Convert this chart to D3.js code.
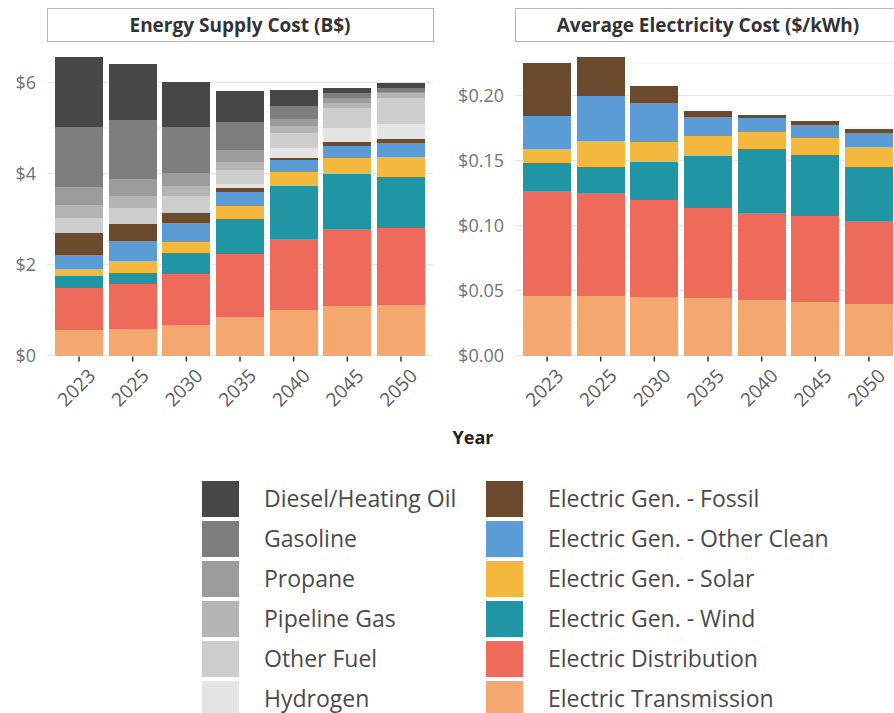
<!DOCTYPE html>
<html>
<head>
<title>Energy Supply Cost</title>
<script src="https://d3js.org/d3.v7.min.js"></script>
<style>
  body { margin: 0; background: #fff; }
  text { font-family: "Open Sans", sans-serif; }
</style>
</head>
<body>
<script>
var years = ["2023", "2025", "2030", "2035", "2040", "2045", "2050"];

// stacking order, bottom to top
var seriesNames = ["Electric Transmission", "Electric Distribution", "Electric Gen. - Wind",
  "Electric Gen. - Solar", "Electric Gen. - Other Clean", "Electric Gen. - Fossil",
  "Hydrogen", "Other Fuel", "Pipeline Gas", "Propane", "Gasoline", "Diesel/Heating Oil"];
var seriesColors = ["#f5a770", "#ee6a5b", "#2095a4", "#f4b83e", "#5b9bd6", "#6c4a2e",
  "#e4e4e4", "#cdcdcd", "#b4b4b4", "#9b9b9b", "#7e7e7e", "#474747"];

// Energy Supply Cost (B$)
var supplyTransmission = [0.57, 0.59, 0.68, 0.84, 0.99, 1.08, 1.10];
var supplyDistribution = [0.92, 0.99, 1.12, 1.38, 1.58, 1.69, 1.71];
var supplyWind = [0.26, 0.24, 0.46, 0.77, 1.16, 1.23, 1.12];
var supplySolar = [0.15, 0.26, 0.24, 0.29, 0.31, 0.35, 0.44];
var supplyOtherClean = [0.31, 0.44, 0.42, 0.31, 0.26, 0.26, 0.31];
var supplyFossil = [0.48, 0.37, 0.22, 0.09, 0.05, 0.09, 0.07];
var supplyHydrogen = [0, 0, 0, 0.09, 0.20, 0.31, 0.33];
var supplyOtherFuel = [0.33, 0.35, 0.37, 0.31, 0.35, 0.42, 0.59];
var supplyPipelineGas = [0.29, 0.26, 0.22, 0.18, 0.15, 0.11, 0.09];
var supplyPropane = [0.40, 0.37, 0.29, 0.26, 0.15, 0.11, 0.04];
var supplyGasoline = [1.32, 1.30, 1.01, 0.62, 0.29, 0.11, 0.09];
var supplyDiesel = [1.52, 1.23, 0.99, 0.68, 0.35, 0.11, 0.11];

// Average Electricity Cost ($/kWh)
var elecTransmission = [0.0458, 0.0458, 0.0450, 0.0442, 0.0427, 0.0412, 0.0396];
var elecDistribution = [0.0808, 0.0792, 0.0746, 0.0692, 0.0669, 0.0662, 0.0638];
var elecWind = [0.0215, 0.0200, 0.0292, 0.0400, 0.0492, 0.0469, 0.0415];
var elecSolar = [0.0108, 0.0200, 0.0154, 0.0154, 0.0131, 0.0131, 0.0154];
var elecOtherClean = [0.0254, 0.0346, 0.0300, 0.0146, 0.0108, 0.0100, 0.0108];
var elecFossil = [0.0408, 0.0300, 0.0131, 0.0046, 0.0023, 0.0031, 0.0031];

var supplyTicks = [0, 2, 4, 6];
var supplyGrid = [0, 1, 2, 3, 4, 5, 6];
var elecTicks = [0, 0.05, 0.10, 0.15, 0.20];
var elecGrid = [0, 0.025, 0.05, 0.075, 0.10, 0.125, 0.15, 0.175, 0.20, 0.225];

var supplySeries = [supplyTransmission, supplyDistribution, supplyWind, supplySolar,
  supplyOtherClean, supplyFossil, supplyHydrogen, supplyOtherFuel, supplyPipelineGas,
  supplyPropane, supplyGasoline, supplyDiesel];
var elecSeries = [elecTransmission, elecDistribution, elecWind, elecSolar, elecOtherClean, elecFossil];

function buildRows(series) {
  return years.map(function(y, i) {
    var row = { year: y };
    seriesNames.forEach(function(name, k) {
      row[name] = k < series.length ? series[k][i] : 0;
    });
    return row;
  });
}

var color = d3.scaleOrdinal().domain(seriesNames).range(seriesColors);

var svg = d3.select("body").append("svg")
  .attr("width", 894)
  .attr("height", 713);

var baseY = 355.5, topY = 50;

function drawPanel(left, title, rows, maxVal, ticks, grid, fmt) {
  var right = left + 386;
  var x = d3.scaleBand().domain(years).range([left, right])
    .paddingInner(0.105).paddingOuter(0.15);
  var y = d3.scaleLinear().domain([0, maxVal]).range([baseY, topY]);

  var g = svg.append("g");

  g.selectAll("line.grid")
    .data(grid)
    .enter()
    .append("line")
    .attr("class", "grid")
    .attr("x1", left).attr("x2", right)
    .attr("y1", function(d) { return y(d); })
    .attr("y2", function(d) { return y(d); })
    .attr("stroke", function(d, i) { return ticks.indexOf(d) >= 0 ? "#e6e6e6" : "#f2f2f2"; })
    .attr("stroke-width", 1);

  var stacked = d3.stack().keys(seriesNames)(rows);

  g.selectAll("g.layer")
    .data(stacked)
    .enter()
    .append("g")
    .attr("class", "layer")
    .attr("fill", function(d) { return color(d.key); })
    .selectAll("rect")
    .data(function(d) { return d; })
    .enter()
    .append("rect")
    .attr("x", function(d) { return x(d.data.year); })
    .attr("width", x.bandwidth())
    .attr("y", function(d) { return y(d[1]); })
    .attr("height", function(d) { return Math.max(0, y(d[0]) - y(d[1])); })
    .attr("shape-rendering", "crispEdges");

  // y axis labels
  g.selectAll("text.ylab")
    .data(ticks)
    .enter()
    .append("text")
    .attr("class", "ylab")
    .attr("x", left - 11)
    .attr("y", function(d) { return y(d); })
    .attr("dy", "0.35em")
    .attr("text-anchor", "end")
    .attr("font-size", 18)
    .attr("fill", "#727272")
    .text(fmt);

  // x ticks and rotated labels
  var xt = g.selectAll("g.xt")
    .data(years)
    .enter()
    .append("g")
    .attr("class", "xt");
  xt.append("line")
    .attr("x1", function(d) { return x(d) + x.bandwidth() / 2; })
    .attr("x2", function(d) { return x(d) + x.bandwidth() / 2; })
    .attr("y1", baseY + 1)
    .attr("y2", baseY + 6)
    .attr("stroke", "#333")
    .attr("stroke-width", 1.5);
  xt.append("text")
    .attr("transform", function(d) {
      return "translate(" + (x(d) + x.bandwidth() / 2 + 8) + "," + (baseY + 12) + ") rotate(-45)";
    })
    .attr("text-anchor", "end")
    .attr("dy", "0.71em")
    .attr("font-size", 19)
    .attr("fill", "#5a5a5a")
    .text(function(d) { return d; });

  // title box
  g.append("rect")
    .attr("x", left + 0.5)
    .attr("y", 8.5)
    .attr("width", 386)
    .attr("height", 33)
    .attr("fill", "#fff")
    .attr("stroke", "#b5b5b5");
  g.append("text")
    .attr("x", left + 193)
    .attr("y", 25)
    .attr("dy", "0.35em")
    .attr("text-anchor", "middle")
    .attr("font-size", 19)
    .attr("font-weight", "bold")
    .attr("fill", "#333")
    .text(title);
}

drawPanel(47, "Energy Supply Cost (B$)", buildRows(supplySeries), 305.5 / 45.5,
  supplyTicks, supplyGrid, function(d) { return "$" + d; });
drawPanel(515, "Average Electricity Cost ($/kWh)", buildRows(elecSeries), 305.5 / 1300,
  elecTicks, elecGrid, d3.format("$.2f"));

svg.append("text")
  .attr("x", 473)
  .attr("y", 444)
  .attr("text-anchor", "middle")
  .attr("font-size", 18)
  .attr("font-weight", "bold")
  .attr("fill", "#222")
  .text("Year");

// legend
var legendOrder = seriesNames.slice().reverse();
var items = svg.selectAll("g.legend")
  .data(legendOrder)
  .enter()
  .append("g")
  .attr("class", "legend")
  .attr("transform", function(d, i) {
    var col = Math.floor(i / 6), row = i % 6;
    return "translate(" + (202 + col * 284) + "," + (481 + row * 40) + ")";
  });
items.append("rect")
  .attr("width", 37)
  .attr("height", 36)
  .attr("fill", function(d) { return color(d); });
items.append("text")
  .attr("x", 62)
  .attr("y", 18)
  .attr("dy", "0.35em")
  .attr("font-size", 23)
  .attr("fill", "#4a4a4a")
  .text(function(d) { return d; });
</script>
</body>
</html>
